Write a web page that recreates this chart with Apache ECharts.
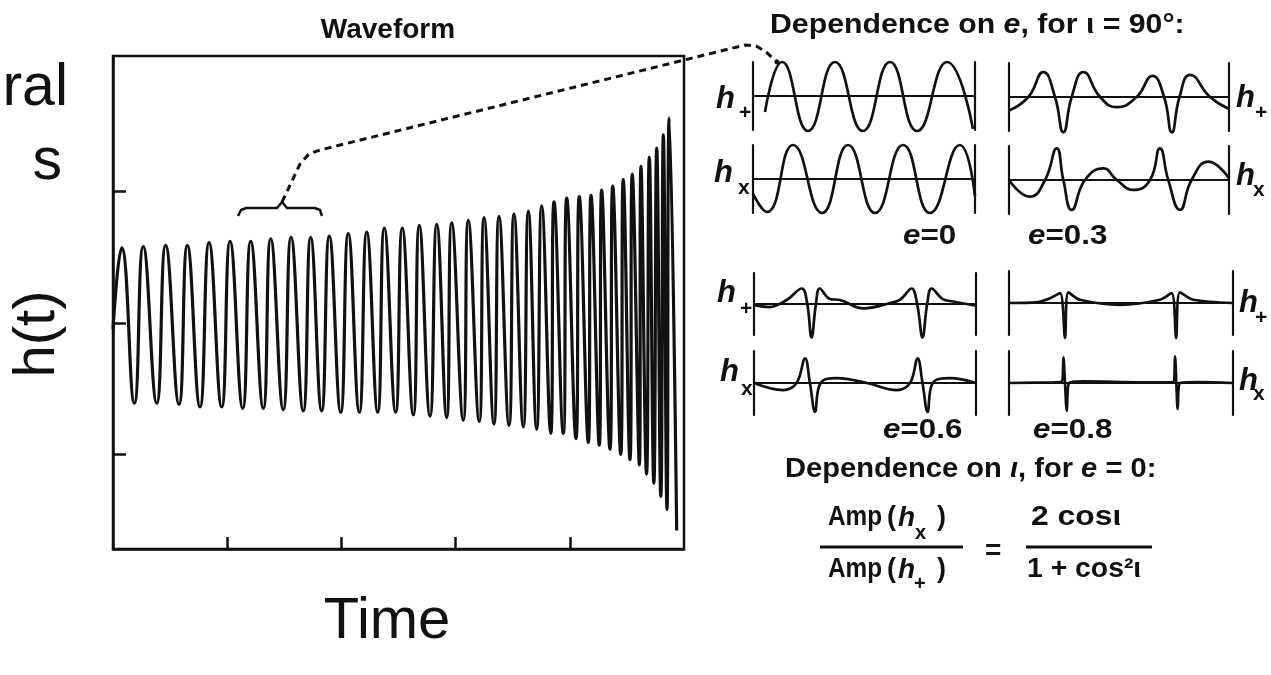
<!DOCTYPE html>
<html>
<head>
<meta charset="utf-8">
<script src="https://cdn.jsdelivr.net/npm/echarts@6/dist/echarts.min.js"></script>
<style>
  html, body { margin: 0; background: #fff; }
  #chart { width: 1271px; height: 675px; }
</style>
</head>
<body>
<div id="chart"></div>
<script>
// chirp waveform: start, then alternating peak / trough  [time, h]
var chirp = [
  [0, -0.05],
  [0.076, 0.57], [0.187, -0.61], [0.265, 0.58], [0.383, -0.61], [0.461, 0.59], [0.578, -0.62],
  [0.651, 0.59], [0.762, -0.64], [0.841, 0.61], [0.952, -0.64], [1.025, 0.62], [1.136, -0.65],
  [1.206, 0.62], [1.316, -0.65], [1.381, 0.64], [1.491, -0.66], [1.559, 0.65], [1.666, -0.67],
  [1.731, 0.65], [1.827, -0.67], [1.894, 0.66], [1.994, -0.68], [2.060, 0.68], [2.157, -0.68],
  [2.222, 0.69], [2.318, -0.68], [2.376, 0.72], [2.475, -0.68], [2.533, 0.72], [2.630, -0.70],
  [2.682, 0.74], [2.776, -0.71], [2.835, 0.75], [2.922, -0.72], [2.966, 0.76], [3.067, -0.74],
  [3.111, 0.78], [3.207, -0.75], [3.249, 0.80], [3.336, -0.77], [3.380, 0.81], [3.468, -0.78],
  [3.511, 0.83], [3.593, -0.79], [3.637, 0.85], [3.710, -0.81], [3.754, 0.89], [3.833, -0.84],
  [3.862, 0.92], [3.943, -0.84], [3.973, 0.95], [4.054, -0.88], [4.083, 0.96], [4.162, -0.91],
  [4.186, 0.97], [4.258, -0.93], [4.279, 1.01], [4.352, -0.96], [4.376, 1.04], [4.446, -1.00],
  [4.468, 1.09], [4.527, -1.04], [4.547, 1.13], [4.609, -1.08], [4.623, 1.19], [4.672, -1.15],
  [4.696, 1.26], [4.736, -1.22], [4.761, 1.33], [4.797, -1.32], [4.819, 1.43], [4.851, -1.42],
  [4.871, 1.56], [4.936, -1.58]
];
var xTicks = [1, 2, 3, 4];
var yTicks = [-1, 0, 1];

// small panels, [fraction of panel width, h]
var e0Plus = [[0.054, -0.47], [0.131, 1.0], [0.248, -1.03], [0.369, 1.0], [0.495, -1.03],
  [0.617, 1.0], [0.739, -1.03], [0.874, 1.0], [0.991, -0.97]];
var e0Cross = [[0, -0.44], [0.063, -0.97], [0.18, 1.0], [0.311, -1.0], [0.428, 1.0],
  [0.55, -1.0], [0.676, 1.0], [0.797, -1.0], [0.932, 1.0], [1.0, -0.5]];
var e3Plus = [[0, -0.40], [0.088, 0], [0.156, 0.73], [0.209, 0], [0.247, -1.04], [0.285, 0],
  [0.338, 0.73], [0.414, 0], [0.49, -0.30], [0.58, 0], [0.652, 0.62], [0.705, 0], [0.74, -1.04],
  [0.775, 0], [0.823, 0.65], [0.914, 0], [1.0, -0.35]];
var e3Cross = [[0, 0], [0.095, -0.49], [0.164, 0], [0.217, 0.93], [0.247, 0], [0.285, -0.88],
  [0.345, 0], [0.429, 0.34], [0.49, 0], [0.566, -0.29], [0.641, 0], [0.686, 0.93], [0.724, 0],
  [0.777, -0.88], [0.83, 0], [0.906, 0.54], [1.0, 0.05]];
var e6Plus = [[0, -0.03], [0.07, -0.1], [0.147, 0.13], [0.215, 0.5], [0.24, 0], [0.259, -1.08],
  [0.279, 0], [0.296, 0.5], [0.342, 0.16], [0.387, 0.13], [0.493, -0.14], [0.613, 0.03],
  [0.66, 0.15], [0.71, 0.5], [0.735, 0], [0.759, -1.08], [0.78, 0], [0.8, 0.5], [0.85, 0.16],
  [0.898, 0.08], [1.0, -0.05]];
var e6Cross = [[0, 0], [0.132, -0.22], [0.192, 0], [0.23, 0.77], [0.252, 0], [0.275, -0.9],
  [0.3, 0], [0.372, 0.15], [0.508, 0], [0.643, -0.22], [0.703, 0], [0.737, 0.77], [0.759, 0],
  [0.782, -0.9], [0.805, 0], [0.883, 0.15], [1.0, 0]];
var e8Plus = [[0, 0], [0.12, 0.02], [0.183, 0.15], [0.228, 0.31], [0.25, -1.09], [0.265, 0.33],
  [0.317, 0.1], [0.496, -0.06], [0.674, 0.1], [0.726, 0.31], [0.746, -1.09], [0.763, 0.33],
  [0.823, 0.1], [1.0, 0]];
var e8Cross = [[0, 0], [0.2, 0.02], [0.235, 0.03], [0.243, 0.8], [0.25, 0], [0.258, -0.87],
  [0.268, 0], [0.33, 0.05], [0.6, 0.02], [0.733, 0.03], [0.741, 0.83], [0.747, 0],
  [0.753, -0.82], [0.763, 0], [0.85, 0.03], [1.0, 0]];

var INK = '#111';
var F = '"Liberation Sans", Arial, Helvetica, sans-serif';

var panels = [
  { data: e0Plus,  left: 753,  top: 62,  width: 222, height: 68, smooth: 0.5 },
  { data: e0Cross, left: 753,  top: 145, width: 222, height: 68, smooth: 0.5 },
  { data: e3Plus,  left: 1009, top: 63,  width: 220, height: 68, smooth: 0.5 },
  { data: e3Cross, left: 1009, top: 146, width: 220, height: 68, smooth: 0.5 },
  { data: e6Plus,  left: 754,  top: 273, width: 222, height: 62, smooth: 0.4 },
  { data: e6Cross, left: 754,  top: 351, width: 222, height: 64, smooth: 0.4 },
  { data: e8Plus,  left: 1009, top: 271, width: 224, height: 64, smooth: 0.3 },
  { data: e8Cross, left: 1009, top: 351, width: 224, height: 64, smooth: 0.3 }
];

var grids = [{ left: 113, top: 56, width: 571, height: 493, show: true,
  borderColor: INK, borderWidth: 2.5, outerBoundsMode: 'none' }];
var xAxes = [{
  type: 'value', gridIndex: 0, min: 0, max: 5,
  axisLine: { show: true, onZero: false, lineStyle: { color: INK, width: 2.5 } },
  axisTick: { show: true, inside: true, length: 12, customValues: xTicks, lineStyle: { color: INK, width: 2.5 } },
  axisLabel: { show: false }, splitLine: { show: false }
}];
var yAxes = [{
  type: 'value', gridIndex: 0, min: -1.72, max: 2.03,
  axisLine: { show: true, onZero: false, lineStyle: { color: INK, width: 2.5 } },
  axisTick: { show: true, inside: true, length: 13, customValues: yTicks, lineStyle: { color: INK, width: 2.5 } },
  axisLabel: { show: false }, splitLine: { show: false }
}];
var series = [{
  type: 'line', xAxisIndex: 0, yAxisIndex: 0, data: chirp, smooth: 0.5,
  showSymbol: false, clip: false, lineStyle: { color: INK, width: 3.2 }
}];

panels.forEach(function (p, i) {
  var g = i + 1;
  grids.push({ left: p.left, top: p.top, width: p.width, height: p.height, outerBoundsMode: 'none' });
  xAxes.push({
    type: 'value', gridIndex: g, min: 0, max: 1,
    axisLine: { show: true, onZero: true, lineStyle: { color: INK, width: 2.2 } },
    axisTick: { show: false }, axisLabel: { show: false }, splitLine: { show: false }
  });
  ['left', 'right'].forEach(function (pos) {
    yAxes.push({
      type: 'value', gridIndex: g, min: -1, max: 1, position: pos,
      axisLine: { show: true, onZero: false, lineStyle: { color: INK, width: 2.2 } },
      axisTick: { show: false }, axisLabel: { show: false }, splitLine: { show: false }
    });
  });
  series.push({
    type: 'line', xAxisIndex: g, yAxisIndex: 1 + 2 * i, data: p.data, smooth: p.smooth,
    showSymbol: false, clip: false, lineStyle: { color: INK, width: 2.7 }
  });
});

function txt(x, y, text, size, extra) {
  var st = { text: text, fontSize: size, fontFamily: F, fill: INK,
    textAlign: 'left', textVerticalAlign: 'middle' };
  var el = { type: 'text', x: x, y: y, style: st };
  if (extra) {
    Object.keys(extra).forEach(function (k) {
      if (k === 'scaleX' || k === 'rotation') el[k] = extra[k]; else st[k] = extra[k];
    });
  }
  return el;
}
function hLabel(x, y, sub, subDx, subDy) {
  return [
    txt(x, y, 'h', 31, { fontStyle: 'italic', fontWeight: 'bold' }),
    txt(x + subDx, y + subDy, sub, 21, { fontWeight: 'bold' })
  ];
}

var rich = {
  n: { fontSize: 28, fontFamily: F, fill: INK, fontWeight: 'bold' },
  i: { fontSize: 28, fontFamily: F, fill: INK, fontWeight: 'bold', fontStyle: 'italic' }
};
var B = { fontWeight: 'bold' };

var graphics = [
  txt(68, 89, 'ral', 59, { textAlign: 'right' }),
  txt(62, 163, 's', 59, { textAlign: 'right' }),
  txt(38, 334, 'h(t)', 58, { textAlign: 'center', rotation: Math.PI / 2 }),
  txt(387, 622, 'Time', 58, { textAlign: 'center' }),
  txt(388, 30, 'Waveform', 28, { textAlign: 'center', fontWeight: 'bold' }),

  txt(770, 25, '{n|Dependence on }{i|e}{n|, for ι = 90°:}', 28, { rich: rich, scaleX: 1.08 }),
  txt(903, 236, '{i|e}{n|=0}', 28, { rich: rich, scaleX: 1.12 }),
  txt(1028, 236, '{i|e}{n|=0.3}', 28, { rich: rich, scaleX: 1.12 }),
  txt(883, 430, '{i|e}{n|=0.6}', 28, { rich: rich, scaleX: 1.12 }),
  txt(1033, 430, '{i|e}{n|=0.8}', 28, { rich: rich, scaleX: 1.12 }),
  txt(785, 469, '{n|Dependence on }{i|ι}{n|, for }{i|e}{n| = 0:}', 28, { rich: rich, scaleX: 1.04 }),

  txt(828, 518, 'Amp', 27, { fontWeight: 'bold', scaleX: 0.9 }),
  txt(887, 518, '(', 27, B),
  txt(898, 518, 'h', 28, { fontWeight: 'bold', fontStyle: 'italic' }),
  txt(915, 533, 'x', 20, B),
  txt(937, 518, ')', 27, B),
  txt(828, 570, 'Amp', 27, { fontWeight: 'bold', scaleX: 0.9 }),
  txt(887, 570, '(', 27, B),
  txt(898, 570, 'h', 28, { fontWeight: 'bold', fontStyle: 'italic' }),
  txt(914, 584, '+', 20, B),
  txt(937, 570, ')', 27, B),
  txt(985, 551, '=', 28, B),
  txt(1031, 518, '2 cosι', 27, { fontWeight: 'bold', scaleX: 1.18 }),
  txt(1027, 570, '1 + cos²ι', 27, { fontWeight: 'bold', scaleX: 1.05 }),
  { type: 'line', shape: { x1: 820, y1: 547, x2: 963, y2: 547 }, style: { stroke: INK, lineWidth: 2.8 } },
  { type: 'line', shape: { x1: 1026, y1: 547, x2: 1152, y2: 547 }, style: { stroke: INK, lineWidth: 2.8 } },

  // bracket over the zoomed-in stretch and the dashed leader
  { type: 'polyline', shape: { points: [[238, 216], [241, 210], [246, 208], [277, 208], [282, 202],
    [287, 208], [315, 208], [320, 210], [322, 216]] },
    style: { stroke: INK, lineWidth: 2.5, fill: null } },
  { type: 'polyline', shape: { points: [[282, 202], [300, 164], [309, 154], [320, 150], [745, 45],
    [756, 46], [766, 52], [776, 61]] },
    style: { stroke: INK, lineWidth: 3, fill: null, lineDash: [7, 5] } },
  { type: 'circle', shape: { cx: 777, cy: 62, r: 2.5 }, style: { fill: INK } }
];
graphics = graphics
  .concat(hLabel(716, 99, '+', 23, 14))
  .concat(hLabel(714, 173, 'x', 24, 15))
  .concat(hLabel(1236, 98, '+', 19, 15))
  .concat(hLabel(1236, 176, 'x', 17, 14))
  .concat(hLabel(717, 293, '+', 23, 16))
  .concat(hLabel(720, 372, 'x', 21, 17))
  .concat(hLabel(1239, 303, '+', 16, 15))
  .concat(hLabel(1239, 381, 'x', 14, 13));

var chart = echarts.init(document.getElementById('chart'));
chart.setOption({
  animation: false,
  backgroundColor: '#fff',
  grid: grids,
  xAxis: xAxes,
  yAxis: yAxes,
  series: series,
  graphic: { elements: graphics }
});
</script>
</body>
</html>
